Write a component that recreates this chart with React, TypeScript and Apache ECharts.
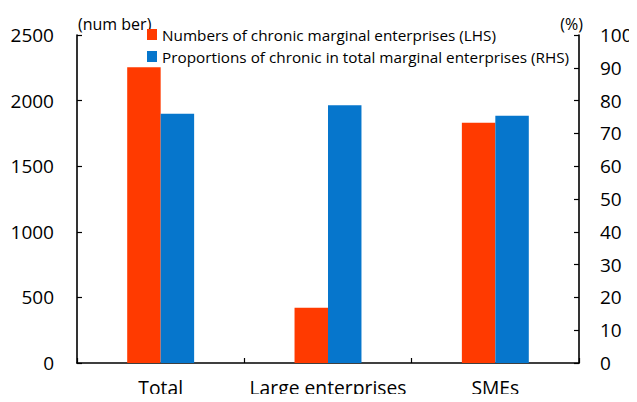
import React, { useEffect, useRef } from "react";
import * as echarts from "echarts";

const categories = ["Total", "Large enterprises", "SMEs"];
const chronicCounts = [2255, 421, 1831];
const chronicShares = [76.0, 78.6, 75.4];
const leftTicks = [0, 500, 1000, 1500, 2000, 2500];
const rightTicks = [0, 10, 20, 30, 40, 50, 60, 70, 80, 90, 100];
const seriesNames = [
  "Numbers of chronic marginal enterprises (LHS)",
  "Proportions of chronic in total marginal enterprises (RHS)",
];

const FONT = "'Open Sans', 'Noto Sans', sans-serif";

export default function App() {
  const ref = useRef<HTMLDivElement>(null);

  useEffect(() => {
    if (!ref.current) return;
    const chart = echarts.init(ref.current, null, { renderer: "svg" });
    const axisLine = { show: true, lineStyle: { color: "#000", width: 1.6 } };
    const tick = { show: true, inside: true, length: 5, lineStyle: { color: "#000", width: 1.2 } };
    chart.setOption({
      animation: false,
      textStyle: { fontFamily: FONT },
      grid: { left: 77, right: 58, top: 35, bottom: 39, containLabel: false },
      legend: {
        orient: "vertical",
        left: 147,
        top: 27,
        padding: 0,
        itemWidth: 10,
        itemHeight: 11,
        itemGap: 7,
        icon: "rect",
        textStyle: { fontFamily: FONT, fontSize: 15.3, color: "#000" },
        data: seriesNames,
      },
      xAxis: {
        type: "category",
        data: categories,
        axisLine,
        axisTick: tick,
        axisLabel: { fontFamily: FONT, fontSize: 19.3, color: "#000", margin: 15, interval: 0 },
      },
      yAxis: [
        {
          type: "value",
          min: leftTicks[0],
          max: leftTicks[leftTicks.length - 1],
          interval: 500,
          name: "(num ber)",
          nameLocation: "end",
          nameGap: 3,
          nameTextStyle: { fontFamily: FONT, fontSize: 16, color: "#000", align: "left", padding: [0, 0, 0, 1] },
          axisLine,
          axisTick: tick,
          axisLabel: { fontFamily: FONT, fontSize: 19, color: "#000", margin: 23, formatter: (v: number) => String(v) },
          splitLine: { show: false },
        },
        {
          type: "value",
          min: rightTicks[0],
          max: rightTicks[rightTicks.length - 1],
          interval: 10,
          position: "right",
          name: "(%)",
          nameLocation: "end",
          nameGap: 3,
          nameTextStyle: { fontFamily: FONT, fontSize: 16, color: "#000", align: "right", padding: [0, -4, 0, 0] },
          axisLine,
          axisTick: tick,
          axisLabel: { fontFamily: FONT, fontSize: 19, color: "#000", margin: 21, formatter: (v: number) => String(v) },
          splitLine: { show: false },
        },
      ],
      series: [
        {
          name: seriesNames[0],
          type: "bar",
          yAxisIndex: 0,
          data: chronicCounts,
          barGap: "0%",
          barCategoryGap: "60%",
          itemStyle: { color: "#FF3A00" },
        },
        {
          name: seriesNames[1],
          type: "bar",
          yAxisIndex: 1,
          data: chronicShares,
          barGap: "0%",
          barCategoryGap: "60%",
          itemStyle: { color: "#0676CC" },
        },
      ],
    });
    return () => chart.dispose();
  }, []);

  return <div ref={ref} style={{ width: 637, height: 402, margin: -8 }} />;
}
